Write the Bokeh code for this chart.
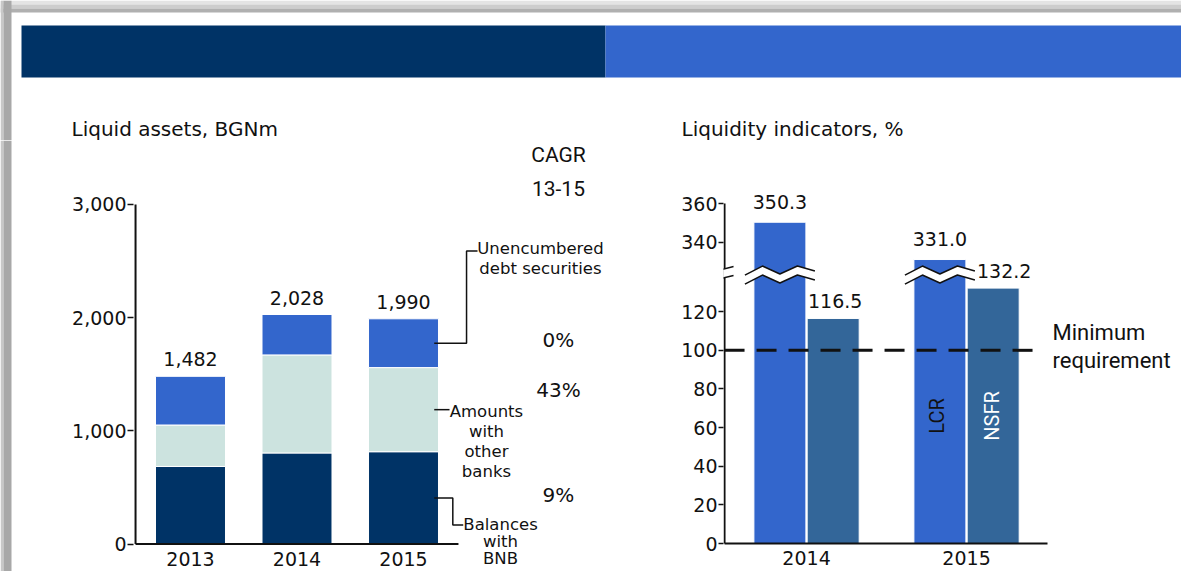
import math
from bokeh.plotting import figure
from bokeh.models import Range1d, FixedTicker, NumeralTickFormatter, Label, LabelSet, ColumnDataSource
from bokeh.layouts import column, row
from bokeh.embed import file_html
from bokeh.resources import INLINE
from bokeh.core.properties import value

# ---------------- data ----------------
left_title = "Liquid assets, BGNm"
asset_years = ["2013", "2014", "2015"]
balances_bnb = [686, 805, 816]
amounts_other_banks = [366, 866, 743]
debt_securities = [430, 357, 431]
asset_totals = [1482, 2028, 1990]
series_names = ["Balances\nwith\nBNB", "Amounts\nwith\nother\nbanks", "Unencumbered\ndebt securities"]
cagr_header = ["CAGR", "13-15"]
cagr_values = ["9%", "43%", "0%"]          # bnb, other banks, securities
left_ticks = [0, 1000, 2000, 3000]

right_title = "Liquidity indicators, %"
ind_years = ["2014", "2015"]
lcr = [350.3, 331.0]
nsfr = [116.5, 132.2]
indicator_names = ["LCR", "NSFR"]
min_requirement = 100
min_req_text = ["Minimum", "requirement"]
right_ticks_low = [0, 20, 40, 60, 80, 100, 120]
right_ticks_high = [340, 360]

# ---------------- style ----------------
NAVY = "#003366"
BLUE = "#3366CC"
MINT = "#CCE3DF"
STEEL = "#336699"
INK = "#111111"
SANS = "DejaVu Sans"
ALT = "Roboto"


def lab(p, x, y, text, font=SANS, size="16px", align="center", baseline="middle",
        color=INK, angle=0.0, x_offset=0, y_offset=0):
    p.add_layout(Label(x=x, y=y, text=text, text_font=font, text_font_size=size,
                       text_align=align, text_baseline=baseline, text_color=color,
                       angle=angle, x_offset=x_offset, y_offset=y_offset))


def base_fig(w, h, xr, yr, l, r, t, b, **kw):
    p = figure(width=w, height=h, x_range=xr, y_range=yr, toolbar_location=None,
               output_backend="svg", min_border_left=l, min_border_right=r,
               min_border_top=t, min_border_bottom=b, title=None, **kw)
    p.outline_line_color = None
    p.grid.visible = False
    p.background_fill_color = "white"
    p.border_fill_color = "white"
    return p


def style_y(ax, tick_out):
    ax.axis_line_color = None
    ax.major_tick_out = tick_out
    ax.major_tick_in = 0
    ax.major_tick_line_width = 1.5
    ax.major_tick_line_color = INK
    ax.minor_tick_line_color = None
    ax.major_label_standoff = 1
    ax.major_label_text_font = SANS
    ax.major_label_text_font_size = "19px"
    ax.major_label_text_color = INK


# ---------------- header strip with titles ----------------
TOP_H = 140
top = figure(width=1181, height=TOP_H, x_range=Range1d(0, 1181), y_range=Range1d(TOP_H, 0),
             toolbar_location=None, output_backend="svg", min_border=0,
             x_axis_type=None, y_axis_type=None, title=None)
top.outline_line_color = None
top.grid.visible = False
top.quad(left=[0, 0, 0], right=[1181] * 3, top=[0, 4, 8], bottom=[4, 8, 12],
         color=["#e4e4e4", "#cdcdcd", "#b0b0b0"], line_color=None)
top.quad(left=[0, 3], right=[3, 11], top=[0, 0], bottom=[TOP_H, TOP_H],
         color=["#c8c8c8", "#a8a8a8"], line_color=None)
top.quad(left=[21], right=[605], top=[25], bottom=[77], color=NAVY, line_color=None)
top.quad(left=[605], right=[1181], top=[25], bottom=[77], color=BLUE, line_color=None)
top.text(x=[71, 681], y=[128, 128], text=[left_title, right_title], text_baseline="middle",
         text_align="left", text_font=value(SANS), text_font_size="20px", text_color=INK)

BODY_H = 571 - TOP_H

# left shadow strip
strip = figure(width=12, height=BODY_H, x_range=Range1d(0, 12), y_range=Range1d(0, 1),
               toolbar_location=None, output_backend="svg", min_border=0,
               x_axis_type=None, y_axis_type=None, title=None)
strip.outline_line_color = None
strip.grid.visible = False
strip.quad(left=[0, 3], right=[3, 11], top=[1, 1], bottom=[0, 0],
           color=["#c8c8c8", "#a8a8a8"], line_color=None)

# ---------------- left chart ----------------
pad = 0.516
bw = 0.657
pl = base_fig(628, BODY_H, Range1d(-0.5352, 3.9624), Range1d(-242, 3565), 121, 28, 0, 0,
              x_axis_location=None)
n = len(asset_years)
src = ColumnDataSource(dict(
    x=list(range(n)), bnb=balances_bnb, other=amounts_other_banks, sec=debt_securities,
    total=asset_totals, label=[f"{t:,}" for t in asset_totals]))
pl.vbar_stack(["bnb", "other", "sec"], x="x", width=bw, color=[NAVY, MINT, BLUE],
              line_color="white", line_width=1, source=src)
pl.add_layout(LabelSet(x="x", y="total", text="label", source=src, text_align="center",
                       text_baseline="alphabetic", y_offset=10, text_font=value(SANS),
                       text_font_size="19px", text_color=INK))
# axis rules
pl.segment(x0=[-pad], y0=[0], x1=[n - 1 + pad], y1=[0], line_color=INK, line_width=2)
pl.segment(x0=[-pad], y0=[0], x1=[-pad], y1=[left_ticks[-1]], line_color=INK, line_width=2)
# category labels
for i, yr in enumerate(asset_years):
    lab(pl, i, 0, yr, size="19px", y_offset=-15)

pl.yaxis.ticker = FixedTicker(ticks=left_ticks)
pl.yaxis.formatter = NumeralTickFormatter(format="0,0")
style_y(pl.yaxis, 6)

# leader lines from last bar's segments
last = n - 1
c1 = balances_bnb[last]
c2 = c1 + amounts_other_banks[last]
c3 = c2 + debt_securities[last]
mid_bnb, mid_oth, mid_sec = c1 / 2, (c1 + c2) / 2, (c2 + c3) / 2
xs0 = last + bw / 2 - 0.04
pl.multi_line(xs=[[xs0, 2.592, 2.592, 2.695], [xs0, 2.432], [xs0, 2.463, 2.463, 2.561]],
              ys=[[mid_sec, mid_sec, 2590, 2590], [mid_oth, mid_oth], [mid_bnb, mid_bnb, 168, 168]],
              line_color=INK, line_width=1.5)

# series names
sec_lines = series_names[2].split("\n")
lab(pl, 3.286, 2611, sec_lines[0], size="16.5px")
lab(pl, 3.286, 2435, sec_lines[1], size="16.5px")
for k, t in enumerate(series_names[1].split("\n")):
    lab(pl, 2.779, 1171 - k * 177, t, size="16.5px")
for k, t in enumerate(series_names[0].split("\n")):
    lab(pl, 2.911, 175 - k * 150, t, size="16.5px")

# CAGR column
lab(pl, 3.455, 3433, cagr_header[0], font=ALT, size="21px")
lab(pl, 3.455, 3141, cagr_header[1], font=ALT, size="21px")
for yv, t in zip([430, 1357, 1799], cagr_values):
    lab(pl, 3.455, yv, t, size="20px")

# ---------------- right chart ----------------
shift = 184          # axis break: values above the break are drawn shifted down
brk = 140            # break position on the drawn scale
px_x = 160.0
px_y = 340.0 / 176.0
off = 0.1665
bw2 = 0.325
ax_x = -0.5125
y0r = -28 / px_y
pr = base_fig(541, BODY_H, Range1d(-0.519, -0.519 + 458 / px_x),
              Range1d(y0r, y0r + BODY_H / px_y), 83, 0, 0, 0, x_axis_location=None)
m = len(ind_years)
lcr_draw = [v - shift if v > brk + shift else v for v in lcr]
xs_l = [i - off for i in range(m)]
xs_n = [i + off for i in range(m)]
pr.vbar(x=xs_l, top=lcr_draw, width=bw2, color=BLUE, line_color="white", line_width=1)
pr.vbar(x=xs_n, top=nsfr, width=bw2, color=STEEL, line_color="white", line_width=1)

# break marks on LCR bars
zz_dx = [-35, -17.5, 0, 17.5, 35]
zz_up = [2, -7, 1, -7, -2]
zz_lo = [u + 9 for u in zz_up]
for i, v in enumerate(lcr):
    if v > brk + shift:
        cx = xs_l[i]
        ux = [cx + d / px_x for d in zz_dx]
        uy = [brk - u / px_y for u in zz_up]
        ly = [brk - u / px_y for u in zz_lo]
        pr.patch(ux + ux[::-1], uy + ly[::-1], color="white", line_color=None)
        pr.multi_line([ux, ux], [uy, ly], line_color=INK, line_width=1.5)

# min requirement line
pr.segment(x0=[ax_x], y0=[min_requirement], x1=[1.431], y1=[min_requirement],
           line_color=INK, line_width=3, line_dash="20 12")

# axis rules (y with break, x up to its end)
x_end = 1.506
pr.segment(x0=[ax_x], y0=[0], x1=[x_end], y1=[0], line_color=INK, line_width=2)
pr.segment(x0=[ax_x], y0=[0], x1=[ax_x], y1=[right_ticks_high[-1] - shift],
           line_color=INK, line_width=2)
bx = [ax_x - 7 / px_x, ax_x + 9 / px_x]
b_up = [brk + 1.3, brk + 3.4]
b_lo = [brk - 3.3, brk - 1.3]
pr.patch(bx + bx[::-1], b_up + b_lo[::-1], color="white", line_color=None)
pr.multi_line([bx, bx], [b_up, b_lo], line_color=INK, line_width=1.5)

pr.yaxis.ticker = FixedTicker(ticks=right_ticks_low + [t - shift for t in right_ticks_high])
pr.yaxis.major_label_overrides = {t - shift: str(t) for t in right_ticks_high}
style_y(pr.yaxis, 5)

# category labels
for i, yr in enumerate(ind_years):
    lab(pr, i, 0, yr, size="19px", y_offset=-14)

# value labels
for i in range(m):
    lab(pr, xs_l[i], lcr_draw[i], f"{lcr[i]:.1f}", size="19px", y_offset=20.5)
    xo = 11 if lcr_draw[i] - nsfr[i] < 20 else 2
    lab(pr, xs_n[i], nsfr[i], f"{nsfr[i]:.1f}", size="19px", y_offset=17.5, x_offset=xo)

# rotated series names inside last year's bars
lab(pr, xs_l[-1] - 0.02, 66, indicator_names[0], font=ALT, size="20px", angle=math.pi / 2)
lab(pr, xs_n[-1] - 0.01, 66, indicator_names[1], font=ALT, size="20px", angle=math.pi / 2,
    color="white")

lab(pr, 1.5375, 109.4, min_req_text[0], font=ALT, size="22px", align="left")
lab(pr, 1.5375, 94.9, min_req_text[1], font=ALT, size="22px", align="left")

layout = column(top, row(strip, pl, pr, spacing=0), spacing=0)
open("out.html", "w").write(file_html(layout, INLINE))
